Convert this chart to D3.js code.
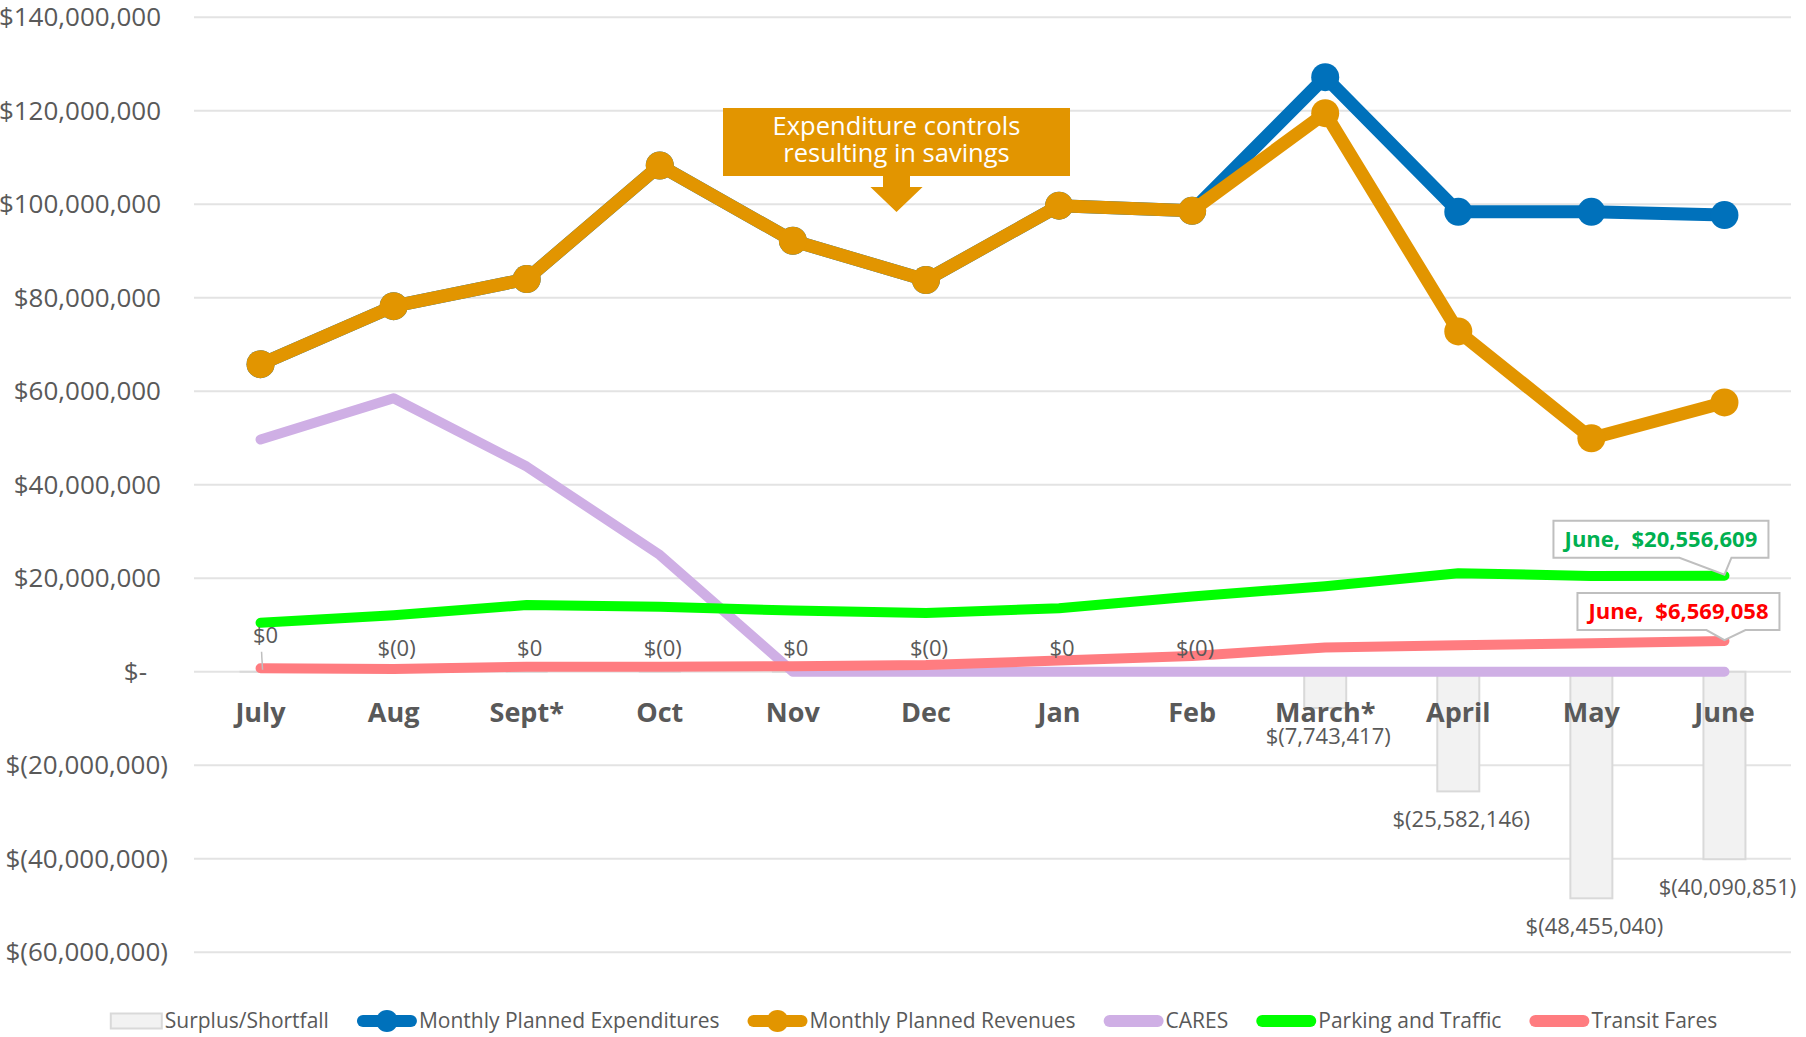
<!DOCTYPE html>
<html>
<head>
<meta charset="utf-8">
<script src="https://cdn.jsdelivr.net/npm/d3@7"></script>
<style>
body { margin: 0; background: #fff; }
text { font-family: "Open Sans", "Noto Sans", sans-serif; }
</style>
</head>
<body>
<svg id="main"></svg>
<script>
width = 1806;
height = 1037;

// chart data
months = ["July", "Aug", "Sept*", "Oct", "Nov", "Dec", "Jan", "Feb", "March*", "April", "May", "June"];
surplus = [0.3, -0.3, 0.3, -0.3, 0.3, -0.3, 0.3, -0.3, -7743417, -25582146, -48455040, -40090851];
expenditures = [65800000, 78200000, 84000000, 108300000, 92200000, 83800000, 99700000, 98600000, 127200000, 98400000, 98400000, 97700000];
revenues = [65800000, 78200000, 84000000, 108300000, 92200000, 83800000, 99700000, 98600000, 119500000, 72800000, 49950000, 57610000];
cares = [49700000, 58500000, 43900000, 25000000, 0, 0, 0, 0, 0, 0, 0, 0];
parking = [10500000, 12100000, 14300000, 13900000, 13100000, 12600000, 13600000, 16100000, 18300000, 21100000, 20500000, 20556609];
transit = [750000, 600000, 1100000, 1100000, 1200000, 1450000, 2400000, 3400000, 5200000, 5700000, 6100000, 6569058];
yTicks = [140000000, 120000000, 100000000, 80000000, 60000000, 40000000, 20000000, 0, -20000000, -40000000, -60000000];

var svg = d3.select("svg#main").attr("width", width).attr("height", height);
svg.append("rect").attr("width", width).attr("height", height).attr("fill", "#fff");

var x = d3.scaleBand().domain(months).range([194, 1791]);
var y = d3.scaleLinear().domain([-60000000, 140000000]).range([952.3, 17.3]);
var cx = function (m) { return x(m) + x.bandwidth() / 2; };

var num = d3.format(",.0f");
function money(v) {
    if (v === 0) return "$-";
    return v < 0 ? "$(" + num(-v) + ")" : "$" + num(v);
}

var grey = "#595959";

// gridlines
svg.append("g").selectAll("line")
    .data(yTicks)
    .enter().append("line")
    .attr("x1", 194).attr("x2", 1791)
    .attr("y1", function (d) { return y(d); })
    .attr("y2", function (d) { return y(d); })
    .attr("stroke", "#e3e3e3")
    .attr("stroke-width", 2);

// y tick labels (accounting style: positive padded by ")" width)
svg.append("g").selectAll("text")
    .data(yTicks)
    .enter().append("text")
    .attr("x", function (d) { return d < 0 ? 168 : (d === 0 ? 147 : 161); })
    .attr("y", function (d) { return y(d); })
    .attr("dy", "0.35em")
    .attr("text-anchor", "end")
    .attr("fill", grey)
    .style("font-size", "26px")
    .text(money);

// surplus / shortfall bars
var barW = 42;
svg.append("g").selectAll("rect")
    .data(surplus)
    .enter().append("rect")
    .attr("x", function (d, i) { return cx(months[i]) - barW / 2; })
    .attr("y", function (d) { return Math.min(y(d), y(0)); })
    .attr("width", barW)
    .attr("height", function (d) { return Math.abs(y(d) - y(0)); })
    .attr("fill", "#f2f2f2")
    .attr("stroke", "#d9d9d9")
    .attr("stroke-width", 2);

// category labels
svg.append("g").selectAll("text")
    .data(months)
    .enter().append("text")
    .attr("x", function (d) { return cx(d); })
    .attr("y", 713)
    .attr("dy", "0.35em")
    .attr("text-anchor", "middle")
    .attr("fill", grey)
    .style("font-size", "27px")
    .style("font-weight", "bold")
    .text(function (d) { return d; });

// lines
var series = [
    { name: "Monthly Planned Expenditures", values: expenditures, color: "#0071bb", width: 13, marker: 14 },
    { name: "Monthly Planned Revenues", values: revenues, color: "#e29500", width: 13, marker: 14 },
    { name: "CARES", values: cares, color: "#cfafe5", width: 10, marker: 0 },
    { name: "Parking and Traffic", values: parking, color: "#00ff00", width: 10, marker: 0 },
    { name: "Transit Fares", values: transit, color: "#ff7c80", width: 10, marker: 0 }
];

var line = d3.line()
    .x(function (d, i) { return cx(months[i]); })
    .y(function (d) { return y(d); });

series.forEach(function (s) {
    var g = svg.append("g");
    g.append("path")
        .attr("d", line(s.values))
        .attr("fill", "none")
        .attr("stroke", s.color)
        .attr("stroke-width", s.width)
        .attr("stroke-linejoin", "round")
        .attr("stroke-linecap", "round");
    if (s.marker) {
        g.selectAll("circle")
            .data(s.values)
            .enter().append("circle")
            .attr("cx", function (d, i) { return cx(months[i]); })
            .attr("cy", function (d) { return y(d); })
            .attr("r", s.marker)
            .attr("fill", s.color);
    }
});

// bar labels (on top of the lines)
var barLabels = svg.append("g");
surplus.forEach(function (d, i) {
    var px = cx(months[i]);
    var small = Math.abs(d) < 1000000;
    var py = small ? y(0) - 24 : y(d) + 28;
    if (i === 0) {
        py -= 13;
        barLabels.append("line")
            .attr("x1", px + 1).attr("y1", py + 17)
            .attr("x2", px + 2).attr("y2", y(0) - 2)
            .attr("stroke", "#bfbfbf").attr("stroke-width", 1.5);
    }
    barLabels.append("text")
        .attr("x", px + (i === 0 ? 5 : 3))
        .attr("y", py)
        .attr("dy", "0.35em")
        .attr("text-anchor", "middle")
        .attr("fill", grey)
        .style("font-size", "22px")
        .text(money(d));
});

// annotation callout
var ann = svg.append("g");
ann.append("path")
    .attr("d", "M723,108H1070V176H910V187H922.6L896.5,212L870.4,187H883V176H723Z")
    .attr("fill", "#e29500");
ann.selectAll("text")
    .data(["Expenditure controls", "resulting in savings"])
    .enter().append("text")
    .attr("x", 896.5)
    .attr("y", function (d, i) { return 126 + i * 27; })
    .attr("dy", "0.35em")
    .attr("text-anchor", "middle")
    .attr("fill", "#fff")
    .style("font-size", "25.5px")
    .text(function (d) { return d; });

// June data callouts
function callout(value, color, box, base) {
    var tx = cx("June"), ty = y(value);
    var x0 = tx + box[0], x1 = tx + box[1], y0 = ty + box[2], y1 = ty + box[3];
    var g = svg.append("g");
    g.append("path")
        .attr("d", "M" + x0 + "," + y0 + "H" + x1 + "V" + y1 + "H" + (tx + base[1]) +
            "L" + tx + "," + (ty - 1) + "L" + (tx + base[0]) + "," + y1 + "H" + x0 + "Z")
        .attr("fill", "#fff")
        .attr("stroke", "#bfbfbf")
        .attr("stroke-width", 2);
    g.append("text")
        .attr("x", (x0 + x1) / 2)
        .attr("y", (y0 + y1) / 2)
        .attr("dy", "0.35em")
        .attr("text-anchor", "middle")
        .attr("fill", color)
        .style("font-size", "22px")
        .style("font-weight", "bold")
        .text("June,\u00a0 " + money(value));
}
callout(parking[11], "#00b050", [-171, 44, -55, -18], [-45, 7]);
callout(transit[11], "#ff0000", [-147, 55, -48, -11], [-18, 21]);

// legend
var legend = svg.append("g");
var items = [{ name: "Surplus/Shortfall", bar: true }].concat(series);
var lx = 0;
items.forEach(function (it) {
    var g = legend.append("g").attr("transform", "translate(" + lx + ",0)");
    var sw = it.bar ? 51 : 58;
    if (it.bar) {
        g.append("rect").attr("x", 0).attr("y", -7.5).attr("width", sw).attr("height", 15)
            .attr("fill", "#f2f2f2").attr("stroke", "#d9d9d9").attr("stroke-width", 2);
    } else {
        g.append("line").attr("x1", 5).attr("x2", sw - 5).attr("y1", 0).attr("y2", 0)
            .attr("stroke", it.color).attr("stroke-width", 12).attr("stroke-linecap", "round");
        if (it.marker) {
            g.append("circle").attr("cx", sw / 2).attr("cy", 0).attr("r", 11).attr("fill", it.color);
        }
    }
    var t = g.append("text")
        .attr("x", sw + 3)
        .attr("y", 0)
        .attr("dy", "0.35em")
        .attr("fill", grey)
        .style("font-size", "21px")
        .text(it.name);
    lx += sw + 3 + t.node().getComputedTextLength() + 29;
});
lx -= 29;
legend.attr("transform", "translate(" + (914 - lx / 2) + ",1021)");
</script>
</body>
</html>
